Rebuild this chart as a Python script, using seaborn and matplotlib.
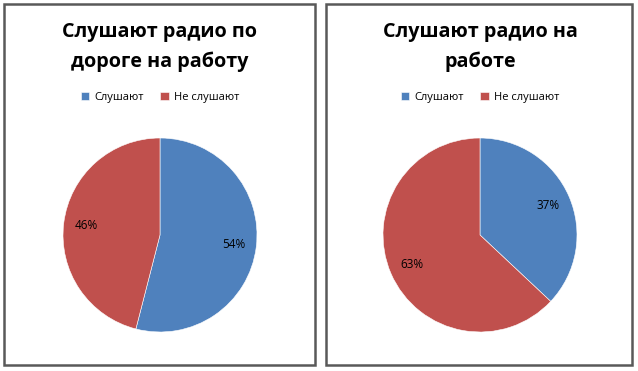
import matplotlib
matplotlib.use("Agg")
import matplotlib.pyplot as plt
import seaborn as sns
from matplotlib.patches import Rectangle

sns.set_theme(style="white")
plt.rcParams['font.family'] = ['Open Sans', 'DejaVu Sans']
plt.rcParams['text.color'] = 'black'

# data
categories = ["Слушают", "Не слушают"]
commute_share = [54, 46]
work_share = [37, 63]
titles = ["Слушают радио по\nдороге на работу", "Слушают радио на\nработе"]
colors = ["#4F81BD", "#C0504D"]

W, H = 638, 371
fig = plt.figure(figsize=(W / 100, H / 100), dpi=100)


def px_box(x0, y0, w, h):
    """pixel box (top-left origin) -> figure fraction rect"""
    return [x0 / W, 1 - (y0 + h) / H, w / W, h / H]


panels = [
    dict(left=4, right=315, cx=160, values=commute_share, title=titles[0]),
    dict(left=326, right=632, cx=480, values=work_share, title=titles[1]),
]

radius_px = 97
cy = 235

for p in panels:
    # chart border
    fig.patches.append(Rectangle((p["left"] / W, 1 - 365 / H),
                                 (p["right"] - p["left"]) / W, 361 / H,
                                 transform=fig.transFigure, fill=False,
                                 edgecolor="#595959", linewidth=1.8))

    ax = fig.add_axes(px_box(p["cx"] - radius_px, cy - radius_px,
                             2 * radius_px, 2 * radius_px))
    wedges, texts, autotexts = ax.pie(
        p["values"], colors=colors, startangle=90, counterclock=False,
        autopct="%d%%", pctdistance=0.77,
        wedgeprops=dict(edgecolor="white", linewidth=0.4),
        textprops=dict(fontsize=8.5, color="black"))
    ax.set_xlim(-1, 1)
    ax.set_ylim(-1, 1)
    ax.set_aspect("equal")
    ax.axis("off")

    fig.text(p["cx"] / W, 1 - 47 / H, p["title"], ha="center", va="center",
             fontsize=14.2, fontweight="bold", linespacing=1.6, color="black")

    fig.legend(wedges, categories, loc="center",
               bbox_to_anchor=(p["cx"] / W, 1 - 97.5 / H), ncol=2,
               frameon=False, fontsize=8, handlelength=0.75,
               handleheight=0.75, handletextpad=0.45, columnspacing=1.5,
               labelcolor="black")

fig.savefig("out.png", dpi=100)
